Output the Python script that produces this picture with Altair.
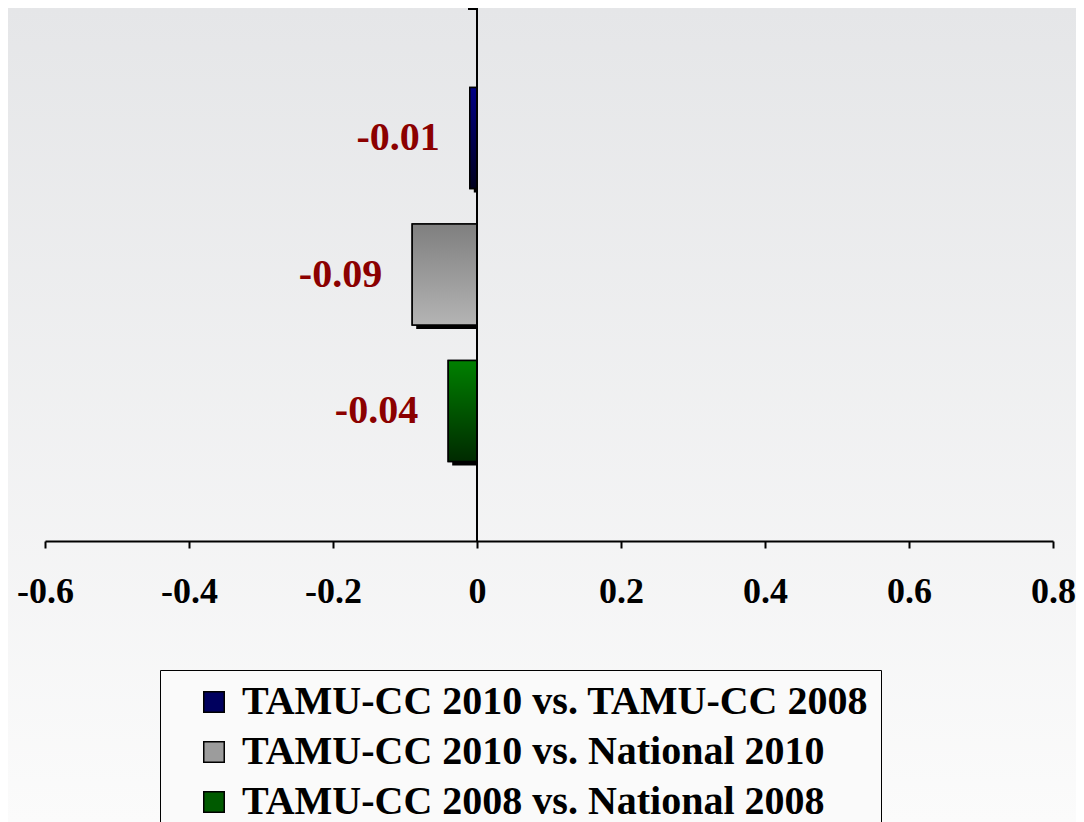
import altair as alt
import pandas as pd

series = [
    "TAMU-CC 2010 vs. TAMU-CC 2008",
    "TAMU-CC 2010 vs. National 2010",
    "TAMU-CC 2008 vs. National 2008",
]
values = [-0.01, -0.09, -0.04]
legend_colors = ["#00005e", "#9c9c9c", "#005a00"]
grad_top = ["#000085", "#7f7f7f", "#008000"]
grad_bottom = ["#00001e", "#b4b4b4", "#002a00"]
x_ticks = [-0.6, -0.4, -0.2, 0, 0.2, 0.4, 0.6, 0.8]

df = pd.DataFrame({"series": series, "value": values})

W, H = 1008, 533
RIGHT = 23
FONT = "Liberation Serif"
FS = 40
AXIS_FS = 36

xs = alt.Scale(domain=[-0.6, 0.8], nice=False, zero=False)
ys = alt.Scale(domain=series, paddingInner=0.26, paddingOuter=0.5825)

x_enc = alt.X(
    "value:Q",
    scale=xs,
    axis=alt.Axis(
        values=x_ticks,
        labelExpr="toString(datum.value)",
        labelFont=FONT,
        labelFontWeight="bold",
        labelFontSize=AXIS_FS,
        labelColor="black",
        labelPadding=26,
        labelFlush=False,
        labelOverlap=False,
        domainColor="black",
        domainWidth=2,
        tickColor="black",
        tickWidth=2,
        tickSize=7,
        grid=False,
        title=None,
        zindex=2,
    ),
)
y_enc = alt.Y("series:N", scale=ys, axis=None)

base = alt.Chart(df)

bg = base.mark_rect(
    clip=False,
    fill=alt.Gradient(
        gradient="linear",
        stops=[
            alt.GradientStop(color="#e5e6e8", offset=0),
            alt.GradientStop(color="#fbfbfb", offset=1),
        ],
        x1=0, x2=0, y1=0, y2=1,
    ),
).encode(
    x=alt.value(-37), x2=alt.value(W + RIGHT), y=alt.value(0), y2=alt.value(814)
)

legend_bars = base.mark_bar(stroke="black", strokeWidth=1.5).encode(
    x=x_enc,
    x2=alt.datum(0),
    y=y_enc,
    color=alt.Color(
        "series:N",
        scale=alt.Scale(domain=series, range=legend_colors),
        legend=alt.Legend(
            title=None,
            orient="none",
            legendX=115,
            legendY=662,
            direction="vertical",
            labelFont=FONT,
            labelFontWeight="bold",
            labelFontSize=FS,
            labelColor="black",
            labelLimit=1000,
            labelOffset=8,
            symbolType="square",
            symbolSize=420,
            symbolStrokeColor="black",
            symbolStrokeWidth=1.5,
            symbolOpacity=1,
            symbolOffset=22,
            rowPadding=10,
            padding=12,
            strokeColor="black",
            fillColor="#fafafa",
        ),
    ),
)

shadow = base.mark_bar(color="black", xOffset=4, yOffset=4).encode(
    x=alt.X("value:Q", scale=xs), x2=alt.datum(0), y=y_enc
)

grad_layers = []
for s, t, b in zip(series, grad_top, grad_bottom):
    grad_layers.append(
        base.transform_filter(alt.datum.series == s)
        .mark_bar(
            stroke="black",
            strokeWidth=1.5,
            fill=alt.Gradient(
                gradient="linear",
                stops=[
                    alt.GradientStop(color=t, offset=0),
                    alt.GradientStop(color=b, offset=1),
                ],
                x1=0, x2=0, y1=0, y2=1,
            ),
        )
        .encode(x=alt.X("value:Q", scale=xs), x2=alt.datum(0), y=y_enc)
    )

zero_line = base.mark_rule(color="black", strokeWidth=2).encode(
    x=alt.datum(0), y=alt.value(0), y2=alt.value(H)
)
top_tick = base.mark_rule(color="black", strokeWidth=2).encode(
    x=alt.datum(-0.0125), x2=alt.datum(0), y=alt.value(1)
)

labels = base.transform_calculate(label="toString(datum.value)").mark_text(
    align="right",
    baseline="middle",
    dx=-30,
    font=FONT,
    fontWeight="bold",
    fontSize=FS,
    color="#8b0000",
).encode(x=alt.X("value:Q", scale=xs), y=y_enc, text="label:N")

chart = alt.layer(
    bg, legend_bars, shadow, *grad_layers, zero_line, top_tick, labels
).properties(
    width=W,
    height=H,
    autosize=alt.AutoSizeParams(type="none"),
    padding={"left": 37, "top": 0, "right": RIGHT, "bottom": 281},
).configure_view(stroke=None).configure(background="#f8f8f8")

chart.save("out.html", embed_options={"renderer": "svg", "actions": False})
